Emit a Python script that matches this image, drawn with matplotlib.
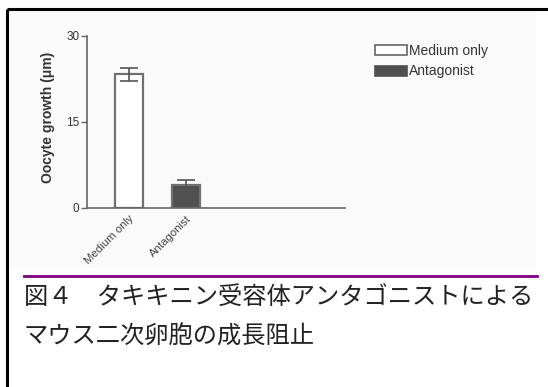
import matplotlib
matplotlib.use("Agg")
import matplotlib.pyplot as plt
from matplotlib.lines import Line2D
from matplotlib.patches import Rectangle, Patch

categories = ["Medium only", "Antagonist"]
values = [23.3, 4.0]
errors = [1.2, 0.9]
yticks = [0, 15, 30]
caption_line1 = "図４　タキキニン受容体アンタゴニストによる"
caption_line2 = "マウス二次卵胞の成長阻止"

W, H = 548, 387
fig = plt.figure(figsize=(W / 100, H / 100), dpi=100)
fig.patch.set_facecolor("white")

# faint background of the pasted chart image
fig.add_artist(Rectangle((10 / W, 1 - 268 / H), (536 - 10) / W, (268 - 10) / H,
                         transform=fig.transFigure, facecolor="#fafafa",
                         edgecolor="none", zorder=0))

# frame lines (top and left)
fig.add_artist(Line2D([7 / W, 1.0], [1 - 9 / H, 1 - 9 / H], transform=fig.transFigure,
                      color="black", lw=2.2, solid_capstyle="butt"))
fig.add_artist(Line2D([7 / W, 7 / W], [1 - 9 / H, 0.0], transform=fig.transFigure,
                      color="black", lw=2.2, solid_capstyle="butt"))

ax = fig.add_axes([87 / W, 1 - 208 / H, (345 - 87) / W, (208 - 36) / H])
ax.set_facecolor("none")

x = list(range(len(categories)))
face = ["white", "#505050"]
bars = ax.bar(x, values, width=0.49, color=face, edgecolor="#707070", linewidth=1.6,
              zorder=2)
ax.errorbar(x, values, yerr=errors, fmt="none", ecolor="#555555", elinewidth=1.2,
            capsize=6.5, capthick=1.2, zorder=3)

ax.set_xlim(-0.737, 3.79)
ax.set_ylim(0, 30)
ax.set_yticks(yticks)
ax.set_yticklabels([str(t) for t in yticks], fontsize=8.5, color="#333333",
                   family="Liberation Sans")
ax.set_xticks(x)
ax.set_xticklabels(categories, rotation=45, ha="right", rotation_mode="anchor",
                   fontsize=8.2, color="#444444", family="Liberation Sans")
ax.tick_params(axis="x", length=0, pad=4)
ax.tick_params(axis="y", length=4, width=1, color="#666666", pad=1.5)
for s in ["top", "right"]:
    ax.spines[s].set_visible(False)
for s in ["left", "bottom"]:
    ax.spines[s].set_color("#666666")
    ax.spines[s].set_linewidth(1.2)

ax.set_ylabel("Oocyte growth (μm)", fontsize=10, fontweight="bold",
              family="Liberation Sans", color="#333333")
ax.yaxis.set_label_coords(-0.124, 0.526)

handles = [Patch(facecolor="white", edgecolor="#666666", linewidth=1.2),
           Patch(facecolor="#505050", edgecolor="#505050", linewidth=1.2)]
leg = fig.legend(handles, categories, loc="upper left",
                 bbox_to_anchor=(369 / W, 1 - 38 / H), frameon=False,
                 prop={"family": "Liberation Sans", "size": 10},
                 handlelength=2.3, handleheight=0.75, handletextpad=0.2,
                 labelspacing=0.5, borderaxespad=0)
for t in leg.get_texts():
    t.set_color("#333333")

# purple separator line
fig.add_artist(Line2D([24 / W, 537 / W], [1 - 276 / H, 1 - 276 / H],
                      transform=fig.transFigure, color="#800080", lw=2.0))

cap_font = ["Noto Sans CJK JP", "DejaVu Sans"]
fig.text(24 / W, 1 - 298 / H, caption_line1, fontsize=17.5, family=cap_font,
         color="#222222", va="center", ha="left")
fig.text(24 / W, 1 - 337 / H, caption_line2, fontsize=17.5, family=cap_font,
         color="#222222", va="center", ha="left")

fig.savefig("out.png", dpi=100)
